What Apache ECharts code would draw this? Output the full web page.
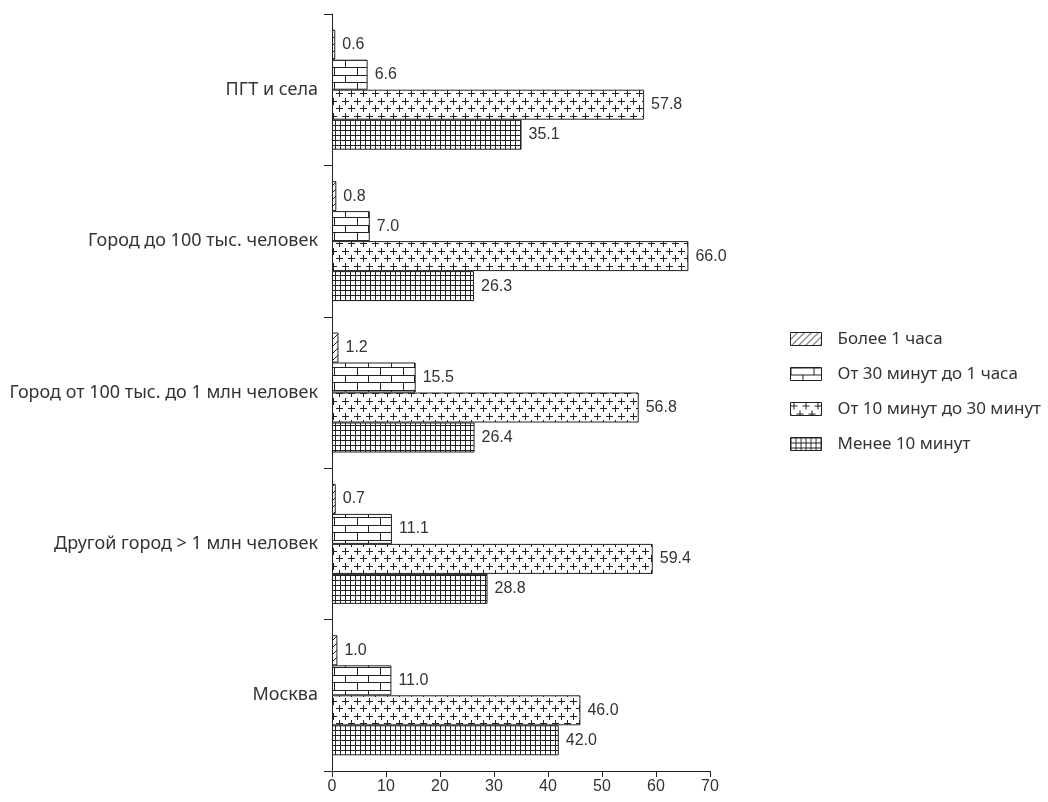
<!DOCTYPE html>
<html>
<head>
<meta charset="utf-8">
<script src="https://cdn.jsdelivr.net/npm/echarts@6/dist/echarts.min.js"></script>
<style>html,body{margin:0;padding:0;background:#fff;}#c{width:1048px;height:802px;}</style>
</head>
<body>
<div id="c"></div>
<script>
// Categories bottom -> top
var categories = ['Москва', 'Другой город > 1 млн человек', 'Город от 100 тыс. до 1 млн человек', 'Город до 100 тыс. человек', 'ПГТ и села'];
var seriesNames = ['Более 1 часа', 'От 30 минут до 1 часа', 'От 10 минут до 30 минут', 'Менее 10 минут'];
var over60 = [1.0, 0.7, 1.2, 0.8, 0.6];
var from30to60 = [11.0, 11.1, 15.5, 7.0, 6.6];
var from10to30 = [46.0, 59.4, 56.8, 66.0, 57.8];
var less10 = [42.0, 28.8, 26.4, 26.3, 35.1];
var xTicks = [0, 10, 20, 30, 40, 50, 60, 70];

var INK = '#222';
function tile(w, h, draw) {
  var c = document.createElement('canvas');
  c.width = w; c.height = h;
  var g = c.getContext('2d');
  g.fillStyle = '#fff'; g.fillRect(0, 0, w, h);
  g.strokeStyle = INK; g.lineWidth = 1;
  draw(g);
  return { image: c, repeat: 'repeat' };
}
var patHatch = tile(7, 7, function (g) {
  g.beginPath();
  g.moveTo(0, 7); g.lineTo(7, 0);
  g.moveTo(-1, 1); g.lineTo(1, -1);
  g.moveTo(6, 8); g.lineTo(8, 6);
  g.stroke();
});
var patBrick = tile(23, 15, function (g) {
  g.beginPath();
  g.moveTo(0, 0.5); g.lineTo(23, 0.5);
  g.moveTo(0, 7.5); g.lineTo(23, 7.5);
  g.moveTo(0.5, 0); g.lineTo(0.5, 7.5);
  g.moveTo(12.5, 7.5); g.lineTo(12.5, 15);
  g.stroke();
});
var patPlus = tile(12, 15, function (g) {
  g.beginPath();
  g.moveTo(0, 3.5); g.lineTo(7, 3.5);
  g.moveTo(3.5, 0); g.lineTo(3.5, 7);
  g.moveTo(6, 11.5); g.lineTo(13, 11.5);
  g.moveTo(9.5, 8); g.lineTo(9.5, 15);
  g.moveTo(-1, 11.5); g.lineTo(1, 11.5);
  g.stroke();
});
var patGrid = tile(5, 5, function (g) {
  g.beginPath();
  g.moveTo(0, 0.5); g.lineTo(5, 0.5);
  g.moveTo(0.5, 0); g.lineTo(0.5, 5);
  g.stroke();
});

var seriesData = [over60, from30to60, from10to30, less10];
var patterns = [patHatch, patBrick, patPlus, patGrid];

var chart = echarts.init(document.getElementById('c'), null, { renderer: 'canvas' });
var valueFont = '"Liberation Sans", Arial, sans-serif';
var labelFont = '"Noto Sans", "Open Sans", sans-serif';

chart.setOption({
  animation: false,
  backgroundColor: '#fff',
  grid: { left: 332, right: 338, top: 14, bottom: 31, containLabel: false },
  legend: {
    data: seriesNames,
    orient: 'vertical',
    left: 785,
    top: 324,
    itemWidth: 31,
    itemHeight: 13,
    itemGap: 15,
    icon: 'rect',
    textStyle: { fontFamily: labelFont, fontSize: 17, color: '#333', lineHeight: 20, padding: [0, 0, 0, 11] },
    itemStyle: { borderColor: INK, borderWidth: 1 }
  },
  xAxis: {
    type: 'value',
    min: xTicks[0],
    max: xTicks[xTicks.length - 1],
    interval: 10,
    splitLine: { show: false },
    axisLine: { show: true, lineStyle: { color: INK, width: 1 } },
    axisTick: { show: true, length: 6, lineStyle: { color: INK } },
    axisLabel: { fontFamily: valueFont, fontSize: 16, color: '#333', margin: 8 }
  },
  yAxis: {
    type: 'category',
    data: categories,
    axisLine: { show: true, lineStyle: { color: INK, width: 1 } },
    axisTick: { show: true, length: 8, lineStyle: { color: INK } },
    axisLabel: { fontFamily: labelFont, fontSize: 18, color: '#333', margin: 14 }
  },
  series: seriesData.map(function (d, i) {
    return {
      name: seriesNames[i],
      type: 'bar',
      data: d,
      barWidth: 30,
      barGap: '0%',
      itemStyle: { color: patterns[i], borderColor: INK, borderWidth: 1 },
      label: {
        show: true,
        position: 'right',
        distance: 7,
        fontFamily: valueFont,
        fontSize: 16,
        color: '#333',
        formatter: function (p) { return p.value.toFixed(1); }
      }
    };
  })
});
</script>
</body>
</html>
